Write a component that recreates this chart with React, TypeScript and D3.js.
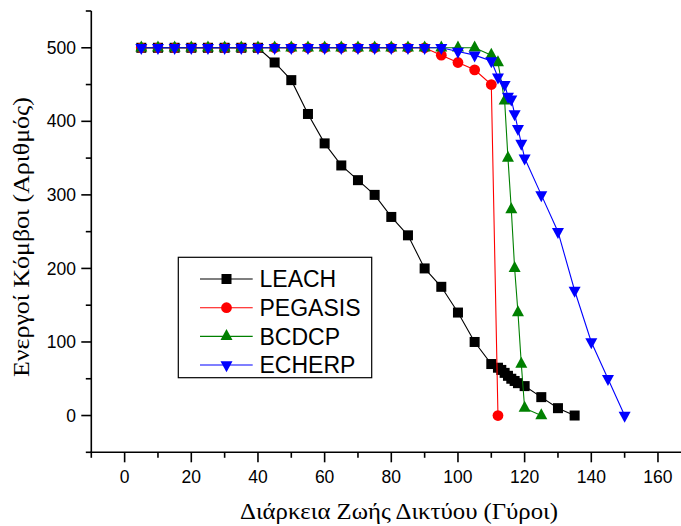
import React from "react";
import * as d3 from "d3";

const W = 681;
const H = 526;

const xTicks = [0, 20, 40, 60, 80, 100, 120, 140, 160];
const xMinorTicks = [-10, 10, 30, 50, 70, 90, 110, 130, 150, 170];
const yTicks = [0, 100, 200, 300, 400, 500];
const yMinorTicks = [-50, 50, 150, 250, 350, 450, 550];

const leachRounds = [5, 10, 15, 20, 25, 30, 35, 40, 45, 50, 55, 60, 65, 70, 75, 80, 85, 90, 95, 100, 105, 110, 112, 113, 114, 115, 116, 117, 118, 120, 125, 130, 135];
const leachNodes = [500, 500, 500, 500, 500, 500, 500, 500, 480, 456, 410, 370, 340, 320, 300, 270, 245, 200, 175, 140, 100, 70, 65, 62, 58, 54, 50, 47, 44, 40, 25, 10, 0];

const pegasisRounds = [5, 10, 15, 20, 25, 30, 35, 40, 45, 50, 55, 60, 65, 70, 75, 80, 85, 90, 95, 100, 105, 110, 112];
const pegasisNodes = [500, 500, 500, 500, 500, 500, 500, 500, 500, 500, 500, 500, 500, 500, 500, 500, 500, 500, 490, 480, 470, 450, 0];

const bcdcpRounds = [5, 10, 15, 20, 25, 30, 35, 40, 45, 50, 55, 60, 65, 70, 75, 80, 85, 90, 95, 100, 105, 110, 112, 114, 115, 116, 117, 118, 119, 120, 125];
const bcdcpNodes = [500, 500, 500, 500, 500, 500, 500, 500, 500, 500, 500, 500, 500, 500, 500, 500, 500, 500, 500, 500, 500, 490, 480, 428, 350, 280, 200, 140, 70, 10, 0];

const echerpRounds = [5, 10, 15, 20, 25, 30, 35, 40, 45, 50, 55, 60, 65, 70, 75, 80, 85, 90, 95, 100, 105, 110, 112, 114, 115, 116, 117, 118, 119, 120, 125, 130, 135, 140, 145, 150];
const echerpNodes = [500, 500, 500, 500, 500, 500, 500, 500, 500, 500, 500, 500, 500, 500, 500, 500, 500, 500, 500, 495, 490, 482, 460, 450, 434, 430, 410, 390, 370, 350, 300, 250, 170, 100, 50, 0];

const seriesNames = ["LEACH", "PEGASIS", "BCDCP", "ECHERP"];
const seriesColors = ["#000000", "#ff0000", "#008000", "#0000ff"];
const seriesMarkers = ["square", "circle", "triangleUp", "triangleDown"];

const xLabel = "Διάρκεια Ζωής Δικτύου (Γύροι)";
const yLabel = "Ενεργοί Κόμβοι (Αριθμός)";

const x = d3.scaleLinear().domain([-10, 170]).range([91.3, 691.3]);
const y = d3.scaleLinear().domain([-50, 550]).range([452.3, 11]);

function Marker({ kind, cx, cy, color }: { kind: string; cx: number; cy: number; color: string }) {
  if (kind === "square") {
    return <rect x={cx - 5} y={cy - 5} width={10} height={10} fill={color} />;
  }
  if (kind === "circle") {
    return <circle cx={cx} cy={cy} r={5.4} fill={color} />;
  }
  const s = 12;
  const h = 11;
  if (kind === "triangleUp") {
    const d = `M${cx},${cy - (2 * h) / 3}L${cx + s / 2},${cy + h / 3}L${cx - s / 2},${cy + h / 3}Z`;
    return <path d={d} fill={color} />;
  }
  const d = `M${cx},${cy + (2 * h) / 3}L${cx + s / 2},${cy - h / 3}L${cx - s / 2},${cy - h / 3}Z`;
  return <path d={d} fill={color} />;
}

export default function App() {
  const series = [
    { rounds: leachRounds, nodes: leachNodes },
    { rounds: pegasisRounds, nodes: pegasisNodes },
    { rounds: bcdcpRounds, nodes: bcdcpNodes },
    { rounds: echerpRounds, nodes: echerpNodes },
  ];
  const line = d3
    .line<[number, number]>()
    .x((d) => x(d[0]))
    .y((d) => y(d[1]));

  const axisY = x(-10);
  const axisX = y(-50);
  const tickFont = "Arial, 'Liberation Sans', sans-serif";
  const labelFont = "'Times New Roman', 'Liberation Serif', serif";

  const legendRowsY = [279, 307.7, 336.4, 365];

  return (
    <svg
      width={W}
      height={H}
      style={{ position: "absolute", left: 0, top: 0, background: "#fff" }}
    >
      <rect x={0} y={0} width={W} height={H} fill="#fff" />
      {/* axes */}
      <g stroke="#000" strokeWidth={1.6} fill="none">
        <line x1={axisY} x2={axisY} y1={y(550)} y2={axisX + 0.8} />
        <line x1={axisY - 0.8} x2={W + 20} y1={axisX} y2={axisX} />
        {xTicks.map((t) => (
          <line key={"xt" + t} x1={x(t)} x2={x(t)} y1={axisX} y2={axisX + 10} />
        ))}
        {xMinorTicks.map((t) => (
          <line key={"xm" + t} x1={x(t)} x2={x(t)} y1={axisX} y2={axisX + 5.5} />
        ))}
        {yTicks.map((t) => (
          <line key={"yt" + t} x1={axisY - 10} x2={axisY} y1={y(t)} y2={y(t)} />
        ))}
        {yMinorTicks.map((t) => (
          <line key={"ym" + t} x1={axisY - 5.5} x2={axisY} y1={y(t)} y2={y(t)} />
        ))}
      </g>
      <g fontFamily={tickFont} fontSize={17.5} fill="#000">
        {xTicks.map((t) => (
          <text key={"xl" + t} x={x(t)} y={483} textAnchor="middle">
            {t}
          </text>
        ))}
        {yTicks.map((t) => (
          <text key={"yl" + t} x={76} y={y(t)} dy="0.35em" textAnchor="end">
            {t}
          </text>
        ))}
      </g>
      <text
        x={399}
        y={519}
        textAnchor="middle"
        fontFamily={labelFont}
        fontSize={23}
        textLength={318}
        lengthAdjust="spacingAndGlyphs"
        fill="#000"
      >
        {xLabel}
      </text>
      <text
        transform={`translate(29,237) rotate(-90)`}
        textAnchor="middle"
        fontFamily={labelFont}
        fontSize={23}
        textLength={280}
        lengthAdjust="spacingAndGlyphs"
        fill="#000"
      >
        {yLabel}
      </text>

      {/* series */}
      {series.map((s, i) => {
        const pts: [number, number][] = s.rounds.map((r, j) => [r, s.nodes[j]]);
        return (
          <g key={seriesNames[i]}>
            <path d={line(pts) || ""} fill="none" stroke={seriesColors[i]} strokeWidth={1.1} />
            {pts.map((p, j) => (
              <Marker key={j} kind={seriesMarkers[i]} cx={x(p[0])} cy={y(p[1])} color={seriesColors[i]} />
            ))}
          </g>
        );
      })}

      {/* legend */}
      <rect x={178.3} y={257.3} width={193.4} height={120.4} fill="#fff" stroke="#000" strokeWidth={1.2} />
      {seriesNames.map((n, i) => (
        <g key={"lg" + n}>
          <line x1={200} x2={252.7} y1={legendRowsY[i]} y2={legendRowsY[i]} stroke={seriesColors[i]} strokeWidth={1.1} />
          <Marker kind={seriesMarkers[i]} cx={226.5} cy={legendRowsY[i]} color={seriesColors[i]} />
          <text x={259.5} y={legendRowsY[i]} dy="0.36em" fontFamily={tickFont} fontSize={23} fill="#000">
            {n}
          </text>
        </g>
      ))}
    </svg>
  );
}
